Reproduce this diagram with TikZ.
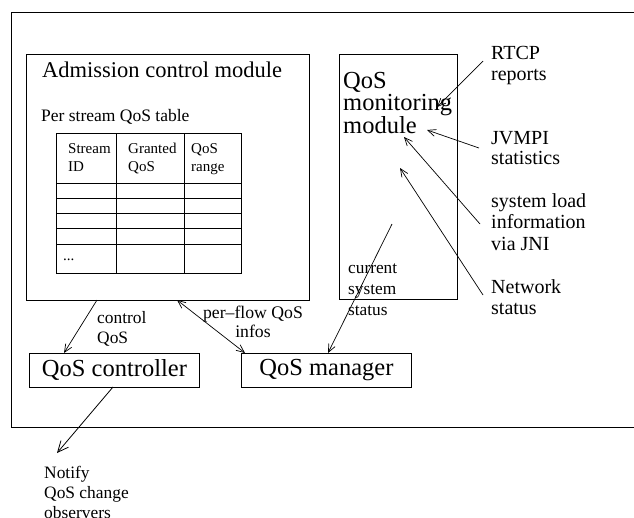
\documentclass[tikz,border=0pt]{standalone}
\usepackage{fontspec}
\setmainfont{Liberation Serif}
\usetikzlibrary{arrows.meta}
% stacked lines whose baseline is that of the first line
\newcommand{\lstack}[1]{\begin{tabular}[t]{@{}l@{}}#1\end{tabular}}
\newcommand{\cstack}[1]{\begin{tabular}[t]{@{}c@{}}#1\end{tabular}}
\newcommand{\fs}[2]{\fontsize{#1}{#2}\selectfont}

\begin{document}
\begin{tikzpicture}[x=1pt,y=-1pt,
  frame/.style={draw, line width=0.9pt, inner sep=0pt, anchor=north west},
  txt/.style={anchor=base west, inner sep=0pt},
  flow/.style={-{Straight Barb[length=8pt,width=7pt]}, line width=0.7pt},
  bigflow/.style={-{Straight Barb[length=11pt,width=10pt]}, line width=0.8pt},
  duplex/.style={{Straight Barb[length=8pt,width=7pt]}-{Straight Barb[length=8pt,width=7pt]}, line width=0.7pt},
  grid/.style={line width=0.8pt},
]
\useasboundingbox (0,0) rectangle (634,517);
\clip (0,0) rectangle (634,517);

% outer system frame (runs off to the right)
\draw[line width=0.9pt] (11,12) rectangle (700,427);

% admission control module with its table
\node[frame, minimum width=283pt, minimum height=246pt] (adm) at (26,54) {};
\node[txt, font=\fs{22.5}{26}] (admt) at (42,77) {Admission control module};
\node[txt, font=\fs{17.5}{20}] (pst) at (41,121) {Per stream QoS table};

\draw[grid] (56,133) rectangle (241,273);
\draw[grid] (116,133) -- (116,273) (184,133) -- (184,273);
\foreach \r in {183,198,213,228,244} \draw[grid] (56,\r) -- (241,\r);
\node[txt, font=\fs{15}{18.5}] (h1) at (68,153) {\lstack{Stream\\ID}};
\node[txt, font=\fs{15}{18.5}] (h2) at (128,153) {\lstack{Granted\\QoS}};
\node[txt, font=\fs{15}{18.5}] (h3) at (191,153) {\lstack{QoS\\range}};
\node[txt, font=\fs{15}{18.5}] (dots) at (63,260) {...};

% QoS monitoring module
\node[frame, minimum width=118pt, minimum height=245pt] (mon) at (339,54) {};
\node[txt, font=\fs{24.5}{20}] (mont) at (343,88) {\lstack{QoS\\monitoring\\module}};
\node[txt, font=\fs{17.3}{21}] (cur) at (348,273) {\lstack{current\\system\\status}};

% inputs of the monitoring module
\node[txt, font=\fs{20}{21}] (rtcp) at (491,59) {\lstack{RTCP\\reports}};
\node[txt, font=\fs{20}{20.5}] (jvm) at (491,144) {\lstack{JVMPI\\statistics}};
\node[txt, font=\fs{20}{21.5}] (load) at (491,207) {\lstack{system load\\information\\via JNI}};
\node[txt, font=\fs{20}{21}] (net) at (491,293) {\lstack{Network\\status}};

\coordinate (rtcpS) at (483,61);  \coordinate (rtcpE) at (437,107);
\coordinate (jvmS) at (479,148);  \coordinate (jvmE) at (427,130);
\coordinate (loadS) at (480,224); \coordinate (loadE) at (404,137);
\coordinate (netS) at (483,295);  \coordinate (netE) at (400,168);
\draw[flow] (rtcpS) -- (rtcpE);
\draw[flow] (jvmS) -- (jvmE);
\draw[flow] (loadS) -- (loadE);
\draw[flow] (netS) -- (netE);

% controller and manager
\node[frame, minimum width=170pt, minimum height=34pt, font=\fs{24.5}{26}] (ctl) at (29,353) {QoS controller};
\node[frame, minimum width=170pt, minimum height=34pt, font=\fs{24.5}{26}] (mgr) at (241,353) {QoS manager};

\coordinate (ctlA) at (97,300);  \coordinate (ctlB) at (64,353);
\draw[flow] (ctlA) -- (ctlB);
\node[txt, font=\fs{17.4}{20}] (ctll) at (97,323) {\lstack{control\\QoS}};

\coordinate (pfA) at (177,300);  \coordinate (pfB) at (245,353);
\draw[duplex] (pfA) -- (pfB);
\node[anchor=base, inner sep=0pt, font=\fs{17.7}{19}] (pfl) at (253,318) {\cstack{per--flow QoS\\infos}};

\coordinate (curA) at (392,224); \coordinate (curB) at (328,353);
\draw[flow] (curA) -- (curB);

\coordinate (notA) at (113,387); \coordinate (notB) at (57,453);
\draw[bigflow] (notA) -- (notB);
\node[txt, font=\fs{17.4}{20}] (notl) at (44,478) {\lstack{Notify\\QoS change\\observers}};
\end{tikzpicture}
\end{document}
